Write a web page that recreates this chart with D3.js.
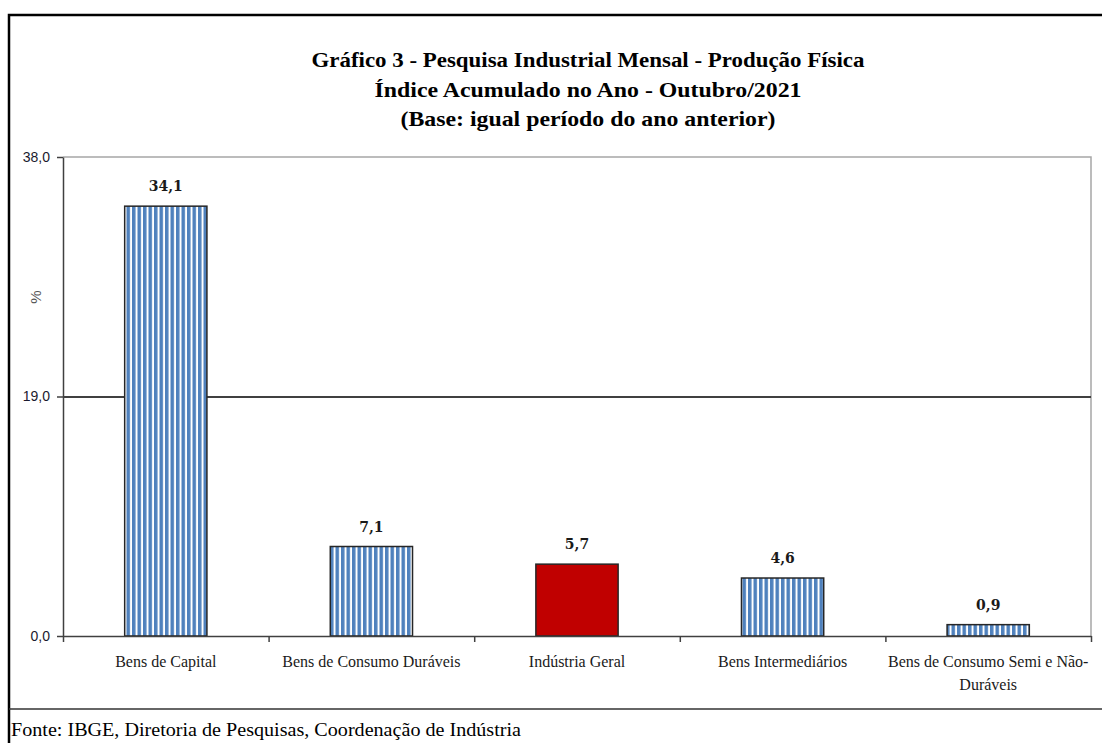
<!DOCTYPE html>
<html>
<head>
<meta charset="utf-8">
<script src="https://cdn.jsdelivr.net/npm/d3@7"></script>
<style>
  body { margin: 0; background: #fff; }
  svg { display: block; }
</style>
</head>
<body>
<div id="chart"></div>
<script>
// Data
var categories = ['Bens de Capital', 'Bens de Consumo Duráveis', 'Indústria Geral', 'Bens Intermediários', 'Bens de Consumo Semi e Não-Duráveis'];
var values = [34.1, 7.1, 5.7, 4.6, 0.9];
var highlight = ['Indústria Geral'];
var yTicks = [0, 19, 38];
var titleLines = ['Gráfico 3 - Pesquisa Industrial Mensal - Produção Física', 'Índice Acumulado no Ano - Outubro/2021', '(Base: igual período do ano anterior)'];
var source = 'Fonte: IBGE, Diretoria de Pesquisas, Coordenação de Indústria';

var W = 1102, H = 743;
var plot = {left: 63, right: 1091, top: 157, bottom: 636};
var serif = '"Liberation Serif", "DejaVu Serif", serif';
var sans = '"Liberation Sans", Arial, sans-serif';

var svg = d3.select('#chart').append('svg').attr('width', W).attr('height', H);

// striped fill like the Excel pattern
var defs = svg.append('defs');
var pat = defs.append('pattern').attr('id', 'stripes')
    .attr('patternUnits', 'userSpaceOnUse').attr('width', 5.5).attr('height', 10);
pat.append('rect').attr('width', 5.5).attr('height', 10).attr('fill', '#fff');
pat.append('rect').attr('width', 3.5).attr('height', 10).attr('fill', '#4f81bd');

// outer frame (left + top) and footer separator
svg.append('path').attr('d', 'M9,743V15H1102').attr('fill', 'none').attr('stroke', '#000').attr('stroke-width', 2.5);
svg.append('line').attr('x1', 9).attr('x2', W).attr('y1', 709).attr('y2', 709)
    .attr('stroke', '#333').attr('stroke-width', 1.5);

// title
var tTitle = svg.append('text').attr('text-anchor', 'middle')
    .style('font-family', serif).style('font-weight', 'bold').style('font-size', '22px').attr('fill', '#000');
var titleWidths = [553, 427, 375];
titleLines.forEach(function(t, i) {
    tTitle.append('tspan').attr('x', 588).attr('y', 67 + i * 29.5)
        .attr('textLength', titleWidths[i]).attr('lengthAdjust', 'spacingAndGlyphs').text(t);
});

var x = d3.scaleBand().domain(categories).range([plot.left, plot.right]).paddingInner(0.6).paddingOuter(0.3);
var xEdge = d3.scaleLinear().domain([0, categories.length]).range([plot.left, plot.right]);
var y = d3.scaleLinear().domain([0, 38]).range([plot.bottom, plot.top]);

// plot area border (top, right) in light gray
svg.append('path')
    .attr('d', 'M' + plot.left + ',' + plot.top + 'H' + plot.right + 'V' + plot.bottom)
    .attr('fill', 'none').attr('stroke', '#a6a6a6').attr('stroke-width', 1.5);

// gridline at 19
svg.append('g').attr('transform', 'translate(' + plot.left + ',0)')
    .call(d3.axisLeft(y).tickValues([19]).tickSize(-(plot.right - plot.left)).tickFormat(''))
    .call(function(g) {
        g.select('.domain').remove();
        g.selectAll('line').attr('stroke', '#404040').attr('stroke-width', 2);
    });

// bars
svg.append('g').selectAll('rect').data(values).enter().append('rect')
    .attr('x', function(d, i) { return x(categories[i]); })
    .attr('y', function(d) { return y(d); })
    .attr('width', x.bandwidth())
    .attr('height', function(d) { return y(0) - y(d); })
    .attr('fill', function(d, i) { return highlight.indexOf(categories[i]) >= 0 ? '#c00000' : 'url(#stripes)'; })
    .attr('stroke', '#262626').attr('stroke-width', 1.5);

// value labels
svg.append('g').selectAll('text').data(values).enter().append('text')
    .attr('x', function(d, i) { return x(categories[i]) + x.bandwidth() / 2; })
    .attr('y', function(d) { return y(d) - 15; })
    .attr('text-anchor', 'middle')
    .style('font-family', '"DejaVu Serif", serif').style('font-weight', 'bold').style('font-size', '14px')
    .attr('fill', '#1a1a1a')
    .text(function(d) { return d.toFixed(1).replace('.', ','); });

// y axis
var yAxisG = svg.append('g').attr('transform', 'translate(' + plot.left + ',0)')
    .call(d3.axisLeft(y).tickValues(yTicks).tickSize(6).tickSizeOuter(0).tickPadding(7)
        .tickFormat(function(d) { return d.toFixed(1).replace('.', ','); }));
yAxisG.attr('font-size', 14).attr('font-family', sans);
yAxisG.select('.domain').attr('stroke', '#404040').attr('stroke-width', 1.5);
yAxisG.selectAll('.tick line').attr('stroke', '#404040').attr('stroke-width', 1.5);
yAxisG.selectAll('.tick text').attr('fill', '#1a1a2e');

// x axis: ticks at category edges
var xAxisG = svg.append('g').attr('transform', 'translate(0,' + plot.bottom + ')')
    .call(d3.axisBottom(xEdge).tickValues(d3.range(categories.length + 1)).tickSize(6).tickSizeOuter(0).tickFormat(''));
xAxisG.select('.domain').attr('stroke', '#404040').attr('stroke-width', 1.5);
xAxisG.selectAll('.tick line').attr('stroke', '#404040').attr('stroke-width', 1.5);

// category labels, wrapped when wider than the space allows
var catLabels = svg.append('g').selectAll('text').data(categories).enter().append('text')
    .attr('text-anchor', 'middle')
    .style('font-family', serif).style('font-size', '16px').attr('fill', '#1a1a1a')
    .attr('transform', function(d) { return 'translate(' + (x(d) + x.bandwidth() / 2) + ',667)'; });

catLabels.each(function(d) {
    var el = d3.select(this);
    var words = d.split(/(?<=-)|\s+/);
    var maxW = 236;
    var join = function(arr) { return arr.join(' ').replace(/- /g, '-'); };
    var line = [], lineNo = 0;
    var ts = el.append('tspan').attr('x', 0).attr('y', 0);
    words.forEach(function(w) {
        var prev = join(line);
        line.push(w);
        ts.text(join(line));
        if (ts.node().getComputedTextLength() > maxW && line.length > 1) {
            ts.text(prev);
            line = [w];
            lineNo++;
            ts = el.append('tspan').attr('x', 0).attr('y', lineNo * 23).text(w);
        }
    });
});

// y axis title
svg.append('text').attr('transform', 'translate(41,297) rotate(-90)')
    .attr('text-anchor', 'middle')
    .attr('font-family', sans).attr('font-size', 15)
    .attr('fill', '#555').text('%');

// source note
svg.append('text').attr('x', 11).attr('y', 736)
    .attr('textLength', 510).attr('lengthAdjust', 'spacingAndGlyphs')
    .style('font-family', serif).style('font-size', '18px').attr('fill', '#000')
    .text(source);
</script>
</body>
</html>
